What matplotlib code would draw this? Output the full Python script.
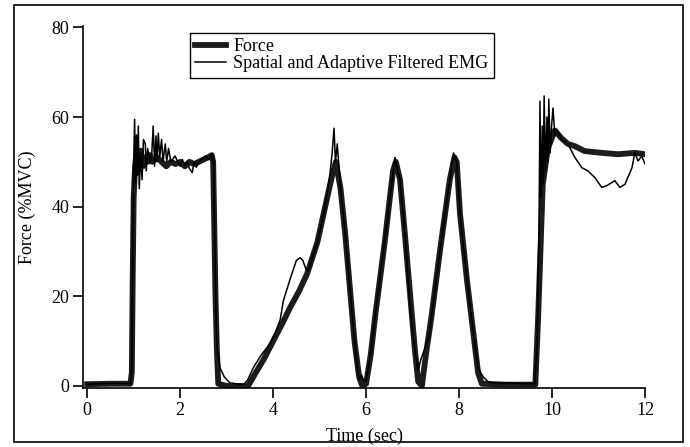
"""
Force vs. spatial/adaptive filtered EMG estimate over a 12 s trial
"""

import matplotlib
matplotlib.use("Agg")
import matplotlib.pyplot as plt
from matplotlib.patches import Rectangle

# measured force (%MVC)
force_t = [0.00, 0.50, 0.93, 0.96, 0.98, 1.00, 1.03, 1.06, 1.10, 1.15,
           1.20, 1.25, 1.30, 1.35, 1.40, 1.50, 1.60, 1.70, 1.80, 1.90,
           2.00, 2.10, 2.20, 2.30, 2.40, 2.50, 2.60, 2.68, 2.71, 2.73,
           2.76, 2.79, 2.82, 3.00, 3.46, 3.60, 3.80, 4.00, 4.20, 4.37,
           4.55, 4.73, 4.95, 5.12, 5.27, 5.35, 5.45, 5.55, 5.65, 5.75,
           5.85, 5.92, 6.00, 6.10, 6.20, 6.30, 6.40, 6.50, 6.58, 6.64,
           6.73, 6.85, 6.95, 7.05, 7.12, 7.20, 7.30, 7.40, 7.50, 7.60,
           7.70, 7.80, 7.90, 7.95, 8.02, 8.17, 8.30, 8.41, 8.49, 9.00,
           9.64, 9.70, 9.75, 9.80, 9.91, 10.06, 10.20, 10.34, 10.49, 10.70,
           11.07, 11.42, 11.78, 12.00]
force_v = [0.4, 0.5, 0.5, 3, 25, 42, 49, 52, 50, 52.5,
           49, 51, 50, 51.5, 50, 51, 50, 49, 50, 49.5,
           50, 49, 50, 49.5, 50, 50.5, 51, 51.5, 50, 38,
           20, 8, 0.5, 0, 0, 2.5, 6, 10, 14, 17.6,
           21, 25, 32, 40, 47, 50, 44, 34, 22, 10,
           2, 0, 0.5, 7, 16, 24, 32, 41, 48, 50,
           46, 32, 20, 8, 1, 0, 8, 15, 23, 31,
           38.5, 46, 51, 50, 38.4, 23.6, 12.4, 2.9, 0.5, 0.3,
           0.3, 15, 30, 45, 53, 57, 55.3, 54, 53.5, 52.4,
           52, 51.7, 52, 51.7]

# force estimated from spatial + adaptive filtered EMG
emg_t = [0.00, 0.50, 0.93, 0.96, 0.98, 1.00, 1.02, 1.04, 1.06, 1.08,
         1.10, 1.12, 1.15, 1.18, 1.21, 1.25, 1.27, 1.30, 1.35, 1.39,
         1.42, 1.45, 1.48, 1.50, 1.53, 1.56, 1.60, 1.63, 1.68, 1.71,
         1.75, 1.80, 1.89, 1.95, 2.00, 2.05, 2.10, 2.15, 2.20, 2.26,
         2.30, 2.35, 2.40, 2.54, 2.62, 2.69, 2.72, 2.75, 2.78, 2.80,
         2.86, 2.95, 3.07, 3.20, 3.36, 3.45, 3.58, 3.75, 3.94, 4.05,
         4.15, 4.22, 4.37, 4.50, 4.58, 4.64, 4.69, 4.75, 4.95, 5.12,
         5.22, 5.27, 5.31, 5.34, 5.38, 5.45, 5.55, 5.65, 5.75, 5.82,
         5.86, 5.90, 5.95, 6.00, 6.10, 6.20, 6.30, 6.40, 6.50, 6.58,
         6.62, 6.66, 6.73, 6.85, 6.95, 7.05, 7.12, 7.18, 7.25, 7.35,
         7.50, 7.60, 7.70, 7.80, 7.88, 7.95, 8.02, 8.17, 8.30, 8.41,
         8.52, 8.62, 8.73, 9.20, 9.63, 9.68, 9.72, 9.74, 9.76, 9.79,
         9.81, 9.83, 9.86, 9.89, 9.91, 9.93, 9.96, 9.99, 10.02, 10.06,
         10.12, 10.20, 10.34, 10.49, 10.64, 10.77, 10.92, 11.07, 11.18, 11.35,
         11.46, 11.57, 11.72, 11.78, 11.85, 11.93, 12.00]
emg_v = [0.4, 0.6, 0.5, 4, 30, 50, 59.5, 45, 56, 47,
         58, 44, 52, 46, 55, 54, 48, 53, 49.7, 52,
         58, 49, 55.8, 50, 56.4, 51, 55, 50, 54, 50,
         53, 50, 51.3, 50, 49, 50.5, 49, 50, 48.5, 47.6,
         50, 48.8, 50, 51.3, 50.5, 51.8, 49, 28, 12, 8,
         4, 2, 0.7, 0.5, 0.3, 1.3, 4.2, 7, 9.5, 12,
         14.7, 19, 24, 28, 28.6, 28, 26.5, 25.5, 32, 40,
         47, 52, 57.5, 50, 54, 44, 34, 22, 10, 3,
         1.5, 2.5, 1.2, 1, 7.5, 16, 24.5, 32.5, 41, 48,
         51, 49, 46, 32, 17, 8, 3.5, 6, 8, 11,
         23, 31, 38.5, 46, 52, 50, 38.4, 23.6, 12.4, 4,
         2, 1, 0.7, 0.6, 0.5, 10, 35, 63.5, 42, 58,
         45, 64.7, 48, 60, 50, 64, 52, 58, 62, 56,
         57, 55, 54, 51, 48.7, 48, 46.5, 44.3, 44.7, 45.8,
         44.3, 45, 48.7, 52, 50.2, 51.3, 49.5]

legend_labels = ["Force", "Spatial and Adaptive Filtered EMG"]

plt.rcParams["font.family"] = ["Liberation Serif", "DejaVu Serif"]
plt.rcParams["font.size"] = 13

fig = plt.figure(figsize=(6.9, 4.47), dpi=100)
ax = fig.add_axes([0.1203, 0.132, 0.8145, 0.8098])

ax.plot(force_t, force_v, color="#1c1c1c", lw=4.2, solid_joinstyle="round",
        label=legend_labels[0], zorder=2)
ax.plot(emg_t, emg_v, color="black", lw=1.1, label=legend_labels[1], zorder=3)

ax.set_xlim(-0.09, 12)
ax.set_ylim(-0.45, 80.3)
ax.set_xticks(range(0, 13, 2))
ax.set_yticks(range(0, 81, 20))

for side in ("top", "right"):
    ax.spines[side].set_visible(False)
for side in ("left", "bottom"):
    ax.spines[side].set_linewidth(1.2)
ax.tick_params(direction="out", length=7, width=1.2, pad=3, labelsize=13)

ax.set_xlabel("Time (sec)", labelpad=6)
ax.set_ylabel("Force (%MVC)", labelpad=11)

leg = ax.legend(loc="upper left", bbox_to_anchor=(0.19, 0.981), borderaxespad=0,
                fancybox=False, edgecolor="black", framealpha=1,
                handlelength=1.7, handletextpad=0.4, borderpad=0.3,
                labelspacing=0.0, fontsize=13)
leg.get_frame().set_linewidth(1.0)

# frame round the whole figure
fig.patches.append(Rectangle((0.0203, 0.0112), 0.9696, 0.9776, transform=fig.transFigure,
                             fill=False, edgecolor="black", lw=1.2))

fig.savefig("out.png", dpi=100)
